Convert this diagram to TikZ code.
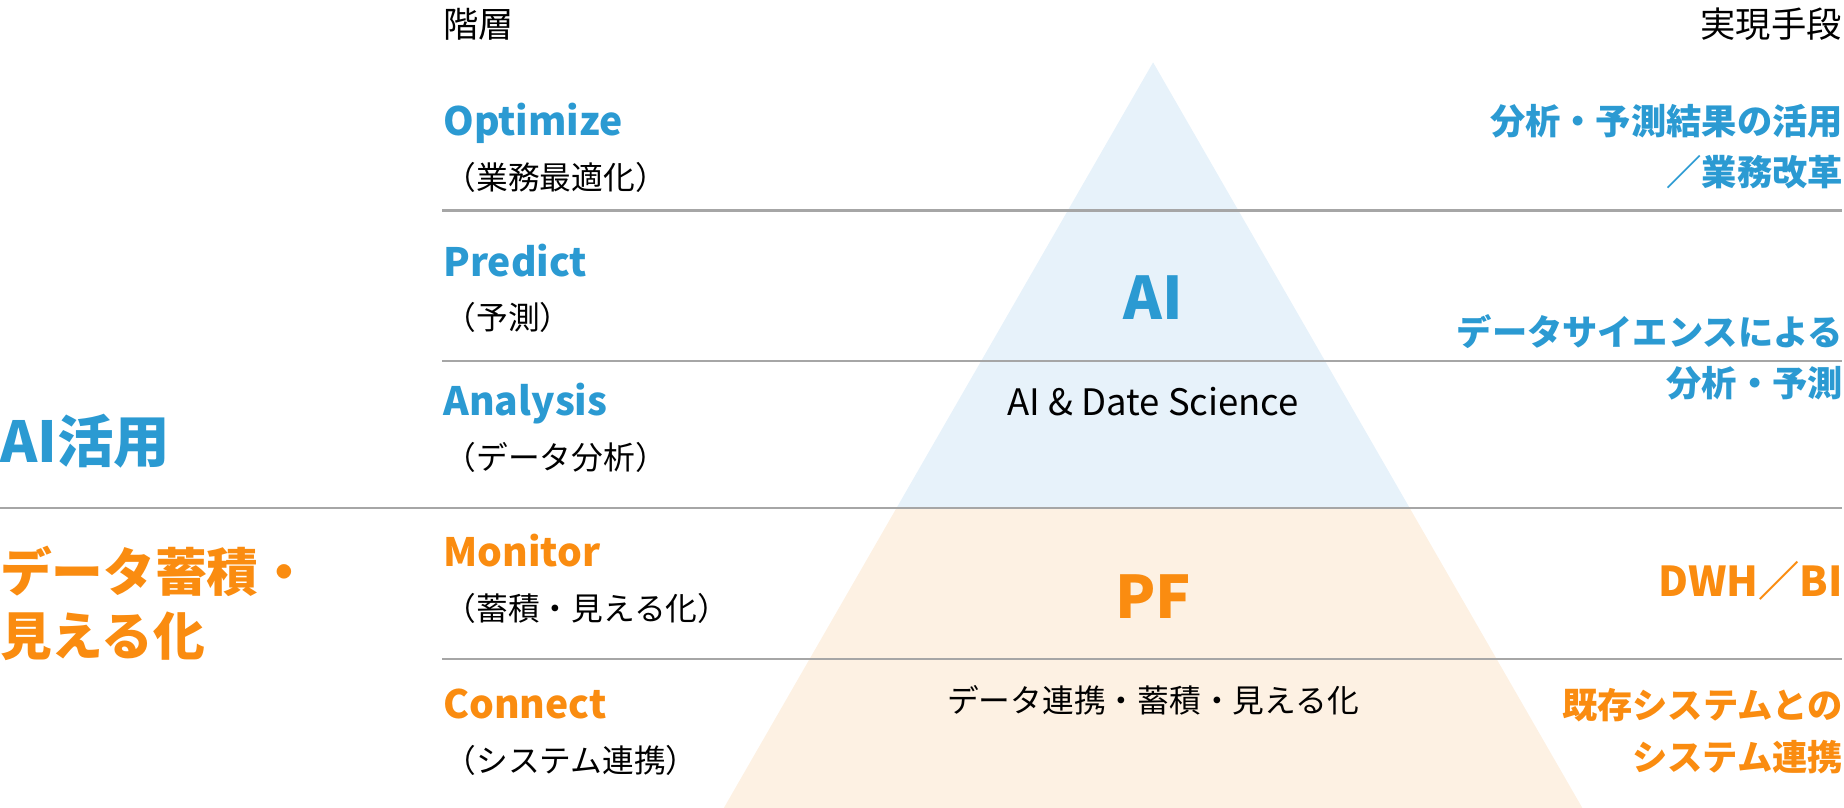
\documentclass[tikz,border=0pt]{standalone}
\usepackage{fontspec}
\setmainfont{Noto Sans CJK JP}
\usetikzlibrary{calc}
\definecolor{aiblue}{HTML}{2B9AD2}
\definecolor{pforange}{HTML}{FA8C10}
\definecolor{triblue}{HTML}{E7F2FA}
\definecolor{triorange}{HTML}{FDF1E3}
\definecolor{rulegray}{HTML}{A6A6A6}
\begin{document}
\begin{tikzpicture}[x=0.5pt,y=-0.5pt,
  txt/.style={inner sep=0pt,outer sep=0pt},
  headtxt/.style={txt,font=\fontsize{15}{18}\selectfont},
  layername/.style={txt,anchor=base west,font=\bfseries\fontsize{16.6}{20}\selectfont},
  bluelayer/.style={layername,text=aiblue},
  orangelayer/.style={layername,text=pforange},
  paren/.style={txt,anchor=base west,font=\fontsize{13.5}{16}\selectfont},
  means/.style={txt,anchor=base east,font=\bfseries\fontsize{15}{18}\selectfont},
  bluemeans/.style={means,text=aiblue},
  orangemeans/.style={means,text=pforange},
  bigword/.style={txt,anchor=base west,font=\bfseries\fontsize{22}{27}\selectfont},
  tiertitle/.style={txt,anchor=base,font=\bfseries\fontsize{25}{30}\selectfont},
  tiersub/.style={txt,anchor=base},
  sepline/.style={draw=rulegray,line width=0.9pt}
]
\useasboundingbox (0,0) rectangle (1568,687);

% pyramid
\coordinate (apex) at (980.5,53);
\coordinate (bl) at (615.5,687);
\coordinate (br) at (1345.5,687);
\coordinate (ml) at ($(apex)!0.5978!(bl)$);
\coordinate (mr) at ($(apex)!0.5978!(br)$);
\fill[triblue] (apex) -- (ml) -- (mr) -- cycle;
\fill[triorange] (ml) -- (bl) -- (br) -- (mr) -- cycle;

% separator lines
\coordinate (l1a) at (376,179);  \coordinate (l1b) at (1566,179);
\coordinate (l2a) at (376,307);  \coordinate (l2b) at (1566,307);
\coordinate (l3a) at (0,432);    \coordinate (l3b) at (1566,432);
\coordinate (l4a) at (376,560);  \coordinate (l4b) at (1566,560);
\draw[sepline] (l1a) -- (l1b);
\draw[sepline] (l2a) -- (l2b);
\draw[sepline] (l3a) -- (l3b);
\draw[sepline] (l4a) -- (l4b);

% headers
\node[headtxt,anchor=base west] (hdleft) at (377,32) {階層};
\node[headtxt,anchor=base east] (hdright) at (1566,32) {実現手段};

% layers
\node[bluelayer] (opt) at (377,115) {Optimize};
\node[paren] (optj) at (378,161) {（業務最適化）};
\node[bluelayer] (pred) at (377,235) {Predict};
\node[paren] (predj) at (378,280) {（予測）};
\node[bluelayer] (ana) at (377,353) {Analysis};
\node[paren] (anaj) at (378,399) {（データ分析）};
\node[orangelayer] (mon) at (377,482) {Monitor};
\node[paren] (monj) at (378,528) {（蓄積・見える化）};
\node[orangelayer] (con) at (377,611) {Connect};
\node[paren] (conj) at (378,657) {（システム連携）};

% left groups
\node[bigword,text=aiblue,font=\bfseries\fontsize{24}{29}\selectfont] (aiuse) at (0,393) {AI活用};
\node[bigword,text=pforange] (store1) at (0,503) {データ蓄積・};
\node[bigword,text=pforange] (store2) at (0,557) {見える化};

% pyramid texts
\node[tiertitle,text=aiblue] (aiword) at (980.5,272) {AI};
\node[tiersub,font=\fontsize{15.5}{19}\selectfont] (aisub) at (980.5,353) {AI \& Date Science};
\node[tiertitle,text=pforange] (pfword) at (980.5,526) {PF};
\node[tiersub,font=\fontsize{13.5}{16}\selectfont] (pfsub) at (980.5,606) {データ連携・蓄積・見える化};

% means
\node[bluemeans] (m1a) at (1567,114) {分析・予測結果の活用};
\node[bluemeans] (m1b) at (1567,158) {／業務改革};
\node[bluemeans] (m2a) at (1567,294) {データサイエンスによる};
\node[bluemeans] (m2b) at (1567,337) {分析・予測};
\node[orangemeans,font=\bfseries\fontsize{17.5}{21}\selectfont] (m3) at (1567,507) {DWH／BI};
\node[orangemeans] (m4a) at (1567,611) {既存システムとの};
\node[orangemeans] (m4b) at (1567,655) {システム連携};
\end{tikzpicture}
\end{document}
